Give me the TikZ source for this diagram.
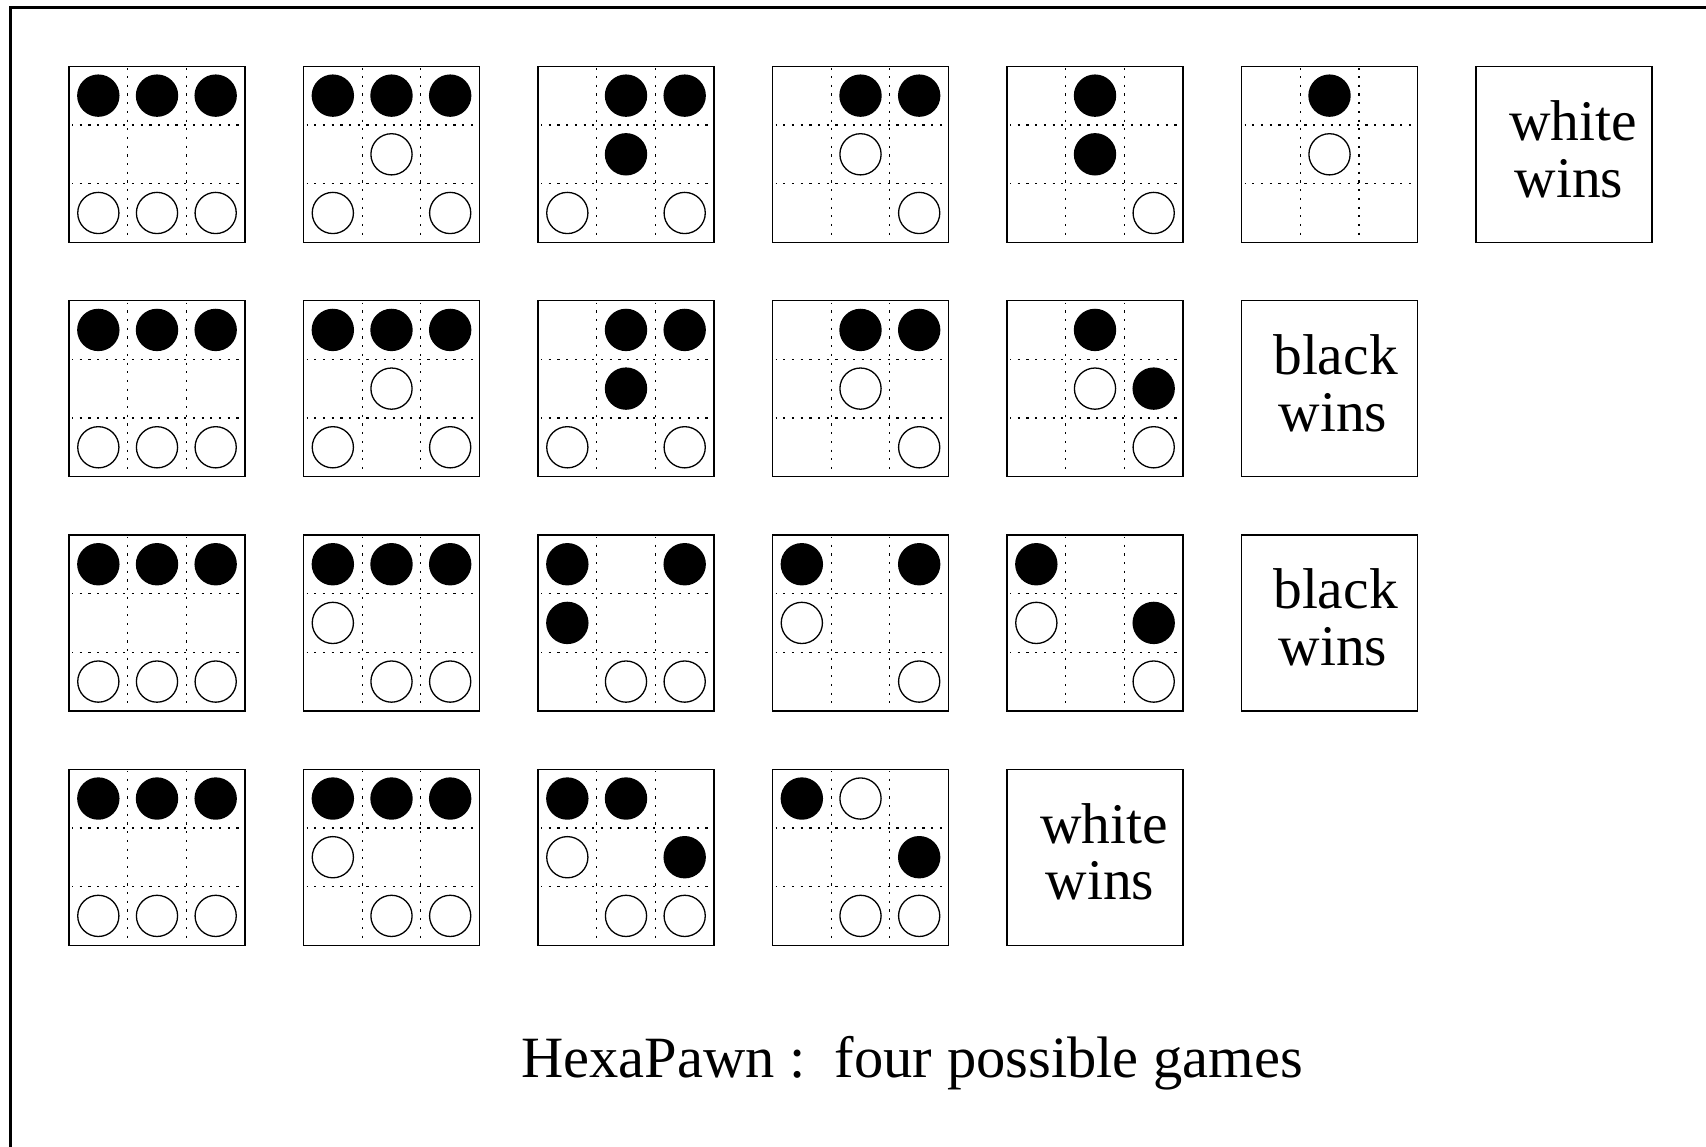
\documentclass[tikz,border=0pt]{standalone}
\usepackage{fontspec}
\setmainfont{Liberation Serif}
\begin{document}
\begin{tikzpicture}[x=0.5pt,y=-0.5pt,
  frameline/.style={line width=1.35pt},
  boardbox/.style={draw,line width=0.7pt,minimum size=88pt,inner sep=0pt,outer sep=0pt},
  gridline/.style={line width=0.65pt,dash pattern=on 1.1pt off 3.25pt,dash phase=0.5pt},
  blackpawn/.style={fill=black},
  whitepawn/.style={draw,line width=0.65pt,fill=white},
  wintext/.style={inner sep=0pt,anchor=base,font=\fontsize{28.75pt}{28.35pt}\selectfont},
  titletext/.style={inner sep=0pt,anchor=base west,font=\fontsize{29.25pt}{34pt}\selectfont}]
\useasboundingbox (0,0) rectangle (1706,1146);
% outer frame, running off the right and bottom edges
\draw[frameline] (10.7,7.8) rectangle (1730,1170);

% one 3x3 HexaPawn position:
% #1 name, #2 column, #3 row, #4 black cells r/c, #5 white cells r/c
\newcommand{\hpboard}[5]{%
  \begin{scope}[shift={(69+234.5*#2,66.3+234.3*#3)}]
    \node[boardbox] (#1) at (88,88) {};
    \draw[gridline] (58.67,2) -- (58.67,174);
    \draw[gridline] (117.33,2) -- (117.33,174);
    \draw[gridline] (3,58.67) -- (174,58.67);
    \draw[gridline] (3,117.33) -- (174,117.33);
    \foreach \r/\c in {#4}
      \fill[blackpawn] (29.33+58.67*\c,29.33+58.67*\r) circle (21.2);
    \foreach \r/\c in {#5}
      \draw[whitepawn] (29.33+58.67*\c,29.33+58.67*\r) circle (20.6);
  \end{scope}}

% the result box at the end of a game
\newcommand{\hpresult}[3]{%
  \node[boardbox] (#1) at (69+234.5*#2+88,66.3+234.3*#3+88) {};}

% game 1
\hpboard{ga1}{0}{0}{0/0,0/1,0/2}{2/0,2/1,2/2}
\hpboard{ga2}{1}{0}{0/0,0/1,0/2}{1/1,2/0,2/2}
\hpboard{ga3}{2}{0}{0/1,0/2,1/1}{2/0,2/2}
\hpboard{ga4}{3}{0}{0/1,0/2}{1/1,2/2}
\hpboard{ga5}{4}{0}{0/1,1/1}{2/2}
\hpboard{ga6}{5}{0}{0/1}{1/1}
\hpresult{gaend}{6}{0}
\node[wintext] (gaw1) at (1573,140.3) {white};
\node[wintext] (gaw2) at (1569,197) {wins};

% game 2
\hpboard{gb1}{0}{1}{0/0,0/1,0/2}{2/0,2/1,2/2}
\hpboard{gb2}{1}{1}{0/0,0/1,0/2}{1/1,2/0,2/2}
\hpboard{gb3}{2}{1}{0/1,0/2,1/1}{2/0,2/2}
\hpboard{gb4}{3}{1}{0/1,0/2}{1/1,2/2}
\hpboard{gb5}{4}{1}{0/1,1/2}{1/1,2/2}
\hpresult{gbend}{5}{1}
\node[wintext] (gbw1) at (1335.5,374.6) {black};
\node[wintext] (gbw2) at (1333,431.6) {wins};

% game 3
\hpboard{gc1}{0}{2}{0/0,0/1,0/2}{2/0,2/1,2/2}
\hpboard{gc2}{1}{2}{0/0,0/1,0/2}{1/0,2/1,2/2}
\hpboard{gc3}{2}{2}{0/0,0/2,1/0}{2/1,2/2}
\hpboard{gc4}{3}{2}{0/0,0/2}{1/0,2/2}
\hpboard{gc5}{4}{2}{0/0,1/2}{1/0,2/2}
\hpresult{gcend}{5}{2}
\node[wintext] (gcw1) at (1335.5,608.9) {black};
\node[wintext] (gcw2) at (1333,665.9) {wins};

% game 4
\hpboard{gd1}{0}{3}{0/0,0/1,0/2}{2/0,2/1,2/2}
\hpboard{gd2}{1}{3}{0/0,0/1,0/2}{1/0,2/1,2/2}
\hpboard{gd3}{2}{3}{0/0,0/1,1/2}{1/0,2/1,2/2}
\hpboard{gd4}{3}{3}{0/0,1/2}{0/1,2/1,2/2}
\hpresult{gdend}{4}{3}
\node[wintext] (gdw1) at (1104,843.2) {white};
\node[wintext] (gdw2) at (1100,899.5) {wins};

% caption
\node[titletext] (caption) at (521,1077) {HexaPawn :\ \ four possible games};
\end{tikzpicture}
\end{document}
